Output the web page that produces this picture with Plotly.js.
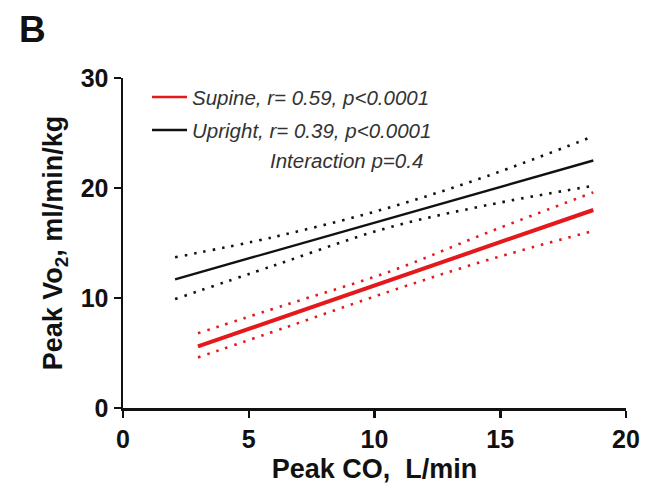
<!DOCTYPE html>
<html>
<head>
<meta charset="utf-8">
<script src="https://cdn.plot.ly/plotly-3.0.1.min.js"></script>
<style>
  html, body { margin: 0; padding: 0; background: #fff; }
  #chart { width: 646px; height: 489px; }
</style>
</head>
<body>
<div id="chart"></div>
<script>
// Regression lines of peak VO2 on peak cardiac output, with 95% confidence bands
const supineX = [2.98, 18.7];
const supineY = [5.6, 18.0];
const supineBandX = [2.98, 6.5, 10.6, 14.5, 18.7];
const supineUpper = [6.8, 9.4, 12.4, 15.95, 19.6];
const supineLower = [4.6, 7.35, 10.6, 13.45, 16.1];

const uprightX = [2.07, 18.7];
const uprightY = [11.7, 22.5];
const uprightBandX = [2.07, 6.0, 10.4, 14.5, 18.7];
const uprightUpper = [13.7, 15.55, 18.1, 21.1, 24.7];
const uprightLower = [9.9, 12.95, 16.3, 18.45, 20.2];

const xTicks = [0, 5, 10, 15, 20];
const yTicks = [0, 10, 20, 30];

const RED = '#e3191c';
const BLACK = '#111111';
const DOTS = '2.5px,7px';
const FAMILY = 'Liberation Sans, Arial, sans-serif';

const traces = [
  { x: uprightBandX, y: uprightUpper, mode: 'lines', line: { color: BLACK, width: 2.6, dash: DOTS, shape: 'spline' } },
  { x: uprightBandX, y: uprightLower, mode: 'lines', line: { color: BLACK, width: 2.6, dash: DOTS, shape: 'spline' } },
  { x: uprightX, y: uprightY, mode: 'lines', line: { color: BLACK, width: 2.4 } },
  { x: supineBandX, y: supineUpper, mode: 'lines', line: { color: RED, width: 2.6, dash: DOTS, shape: 'spline' } },
  { x: supineBandX, y: supineLower, mode: 'lines', line: { color: RED, width: 2.6, dash: DOTS, shape: 'spline' } },
  { x: supineX, y: supineY, mode: 'lines', line: { color: RED, width: 4 } }
];

const tickFont = { family: FAMILY, size: 25, color: '#111', weight: 'bold' };
const titleFont = { family: FAMILY, size: 27, color: '#111', weight: 'bold' };
const legFont = { family: FAMILY, size: 20.5, color: '#333', style: 'italic' };

const layout = {
  width: 646, height: 489,
  margin: { l: 123, r: 20, t: 78, b: 81 },
  paper_bgcolor: '#fff', plot_bgcolor: '#fff',
  showlegend: false,
  xaxis: {
    range: [0, 20], tickvals: xTicks, ticktext: xTicks.map(String),
    showgrid: false, zeroline: false, showline: true, linecolor: BLACK, linewidth: 2.5,
    ticks: 'outside', ticklen: 7, tickwidth: 2.5, tickcolor: BLACK,
    tickfont: tickFont,
    title: { text: 'Peak CO,  L/min', font: titleFont, standoff: 8 }
  },
  yaxis: {
    range: [0, 30], tickvals: yTicks, ticktext: yTicks.map(String),
    showgrid: false, zeroline: false, showline: true, linecolor: BLACK, linewidth: 2.5,
    ticks: 'outside', ticklen: 7, tickwidth: 2.5, tickcolor: BLACK,
    tickfont: tickFont,
    title: { text: 'Peak Vo<sub>2</sub>, ml/min/kg', font: titleFont, standoff: 10 }
  },
  shapes: [
    { type: 'line', xref: 'paper', yref: 'paper', x0: 29 / 503, x1: 64 / 503, y0: 1 - 19 / 330, y1: 1 - 19 / 330, line: { color: RED, width: 2.6 } },
    { type: 'line', xref: 'paper', yref: 'paper', x0: 29 / 503, x1: 64 / 503, y0: 1 - 52 / 330, y1: 1 - 52 / 330, line: { color: BLACK, width: 2.6 } }
  ],
  annotations: [
    { text: 'Supine, r= 0.59, p<0.0001', xref: 'paper', yref: 'paper', x: 67 / 503, y: 1 - 19 / 330, xanchor: 'left', yanchor: 'middle', showarrow: false, font: legFont },
    { text: 'Upright, r= 0.39, p<0.0001', xref: 'paper', yref: 'paper', x: 67 / 503, y: 1 - 52 / 330, xanchor: 'left', yanchor: 'middle', showarrow: false, font: legFont },
    { text: 'Interaction p=0.4', xref: 'paper', yref: 'paper', x: 145 / 503, y: 1 - 82 / 330, xanchor: 'left', yanchor: 'middle', showarrow: false, font: legFont },
    { text: 'B', xref: 'paper', yref: 'paper', x: -106 / 503, y: 1 + 49 / 330, xanchor: 'left', yanchor: 'middle', showarrow: false,
      font: { family: FAMILY, size: 37, color: '#111', weight: 'bold' } }
  ]
};

Plotly.newPlot('chart', traces, layout, { displayModeBar: false, staticPlot: true });
</script>
</body>
</html>
